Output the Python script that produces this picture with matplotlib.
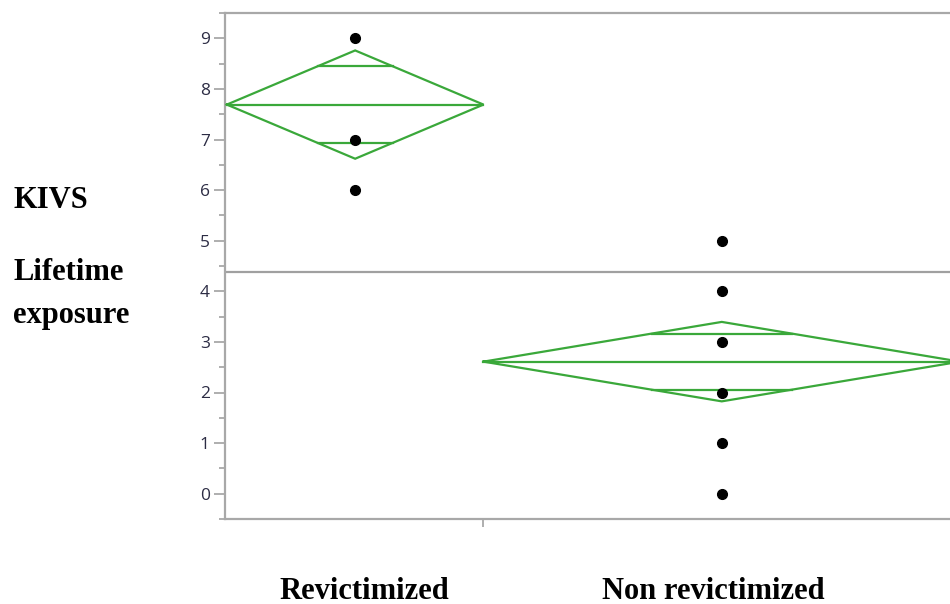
import matplotlib
matplotlib.use("Agg")
import matplotlib.pyplot as plt
import numpy as np

# Group data
groups = ["Revictimized", "Non revictimized"]
group_n = [14, 26]
group_means = [7.69, 2.61]
ci_half = [1.07, 0.785]
grand_mean = 4.38
points_revict = [9, 7, 6]
points_nonrevict = [5, 4, 3, 2, 1, 0]
y_ticks = [0, 1, 2, 3, 4, 5, 6, 7, 8, 9]

GREEN = "#3aa83a"
GRAY = "#a8a8a8"

fig = plt.figure(figsize=(9.5, 6.04), dpi=100)
ax = fig.add_axes([225 / 950, 85 / 604, 1 - 225 / 950, (519 - 13) / 604])

# Means diamonds: width proportional to group size
edges = np.concatenate([[0], np.cumsum(group_n)])
centers = (edges[:-1] + edges[1:]) / 2
for left, right, c, m, h in zip(edges[:-1], edges[1:], centers, group_means, ci_half):
    ax.plot([left, c, right, c, left], [m, m + h, m, m - h, m], color=GREEN, lw=1.6,
            solid_joinstyle="miter", zorder=3)
    ax.plot([left, right], [m, m], color=GREEN, lw=1.6, zorder=3)
    # overlap marks
    ov = h * np.sqrt(2) / 2
    frac = 1 - ov / h
    hw = (right - left) / 2 * frac
    for yy in (m + ov, m - ov):
        ax.plot([c - hw, c + hw], [yy, yy], color=GREEN, lw=1.6, zorder=3)

# Grand mean reference line
ax.axhline(grand_mean, color="#a0a0a0", lw=1.6, zorder=2)

# Raw observations
for c, pts in zip(centers, [points_revict, points_nonrevict]):
    ax.plot([c] * len(pts), pts, "o", color="black", ms=7, zorder=4)

ax.set_xlim(-0.1, 39.45)
ax.set_ylim(-0.49, 9.49)

ax.set_yticks(y_ticks)
ax.set_yticklabels([str(t) for t in y_ticks], fontsize=12.5, family="Open Sans",
                   color="#2c2c44")
ax.set_yticks(np.arange(-0.5, 9.6, 1.0), minor=True)
ax.tick_params(axis="y", which="major", length=8, width=1.3, color=GRAY, pad=3)
ax.tick_params(axis="y", which="minor", length=4, width=1.3, color=GRAY)
ax.set_xticks([edges[1]])
ax.set_xticklabels([""])
ax.tick_params(axis="x", which="major", length=6, width=1.3, color=GRAY)

for side in ("left", "bottom", "top"):
    ax.spines[side].set_color(GRAY)
    ax.spines[side].set_linewidth(1.6)
ax.spines["right"].set_visible(False)

serif = dict(family="Liberation Serif", fontweight="bold", fontsize=22, color="black", va="baseline")
fig.text(13 / 950, 1 - 208 / 604, "KIVS", ha="left", **serif)
fig.text(13 / 950, 1 - 280 / 604, "Lifetime", ha="left", **serif)
fig.text(13 / 950, 1 - 323 / 604, "exposure", ha="left", **serif)
fig.text(364 / 950, 1 - 599 / 604, groups[0], ha="center", **serif)
fig.text(713 / 950, 1 - 599 / 604, groups[1], ha="center", **serif)

fig.savefig("out.png", dpi=100)
